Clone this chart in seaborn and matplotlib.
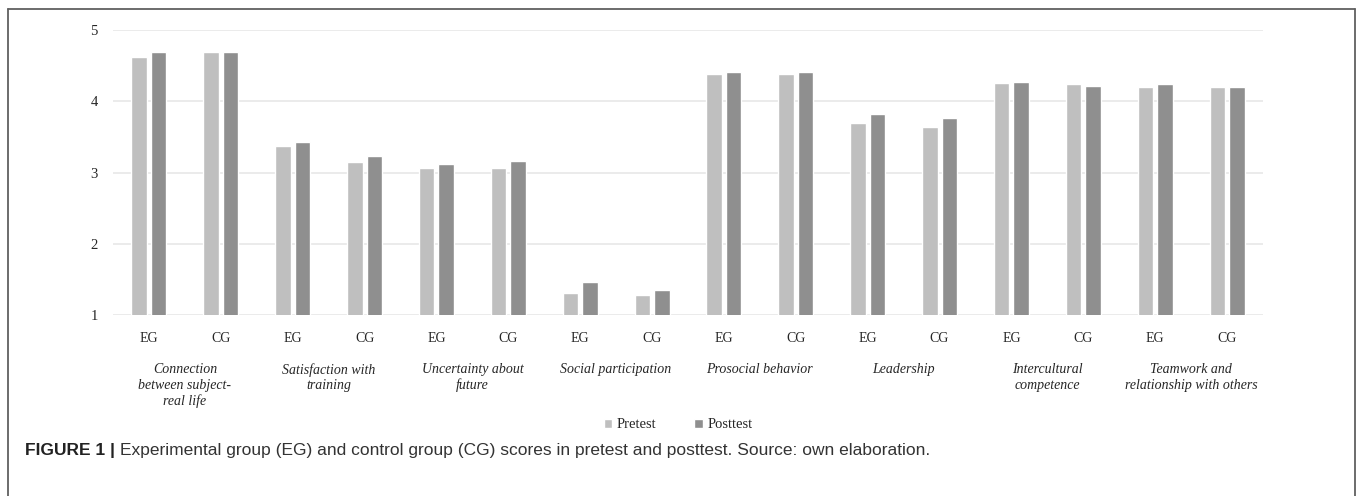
import pandas as pd
import matplotlib
matplotlib.use("Agg")
import matplotlib.pyplot as plt
import matplotlib.transforms as mtransforms
from matplotlib.lines import Line2D
import seaborn as sns

# datos
categories = [
    "Connection\nbetween subject-\nreal life",
    "Satisfaction with\ntraining",
    "Uncertainty about\nfuture",
    "Social participation",
    "Prosocial behavior",
    "Leadership",
    "Intercultural\ncompetence",
    "Teamwork and\nrelationship with others",
]
groups = ["EG", "CG"]
eg_pre = [4.62, 3.37, 3.06, 1.31, 4.39, 3.70, 4.26, 4.20]
eg_post = [4.69, 3.43, 3.12, 1.46, 4.42, 3.83, 4.27, 4.24]
cg_pre = [4.69, 3.15, 3.06, 1.28, 4.39, 3.64, 4.25, 4.21]
cg_post = [4.69, 3.23, 3.16, 1.34, 4.41, 3.77, 4.22, 4.20]

rows = []
for i in range(len(categories)):
    for g, pre, post in [("EG", eg_pre, eg_post), ("CG", cg_pre, cg_post)]:
        key = f"{g}{i}"
        rows.append({"slot": key, "group": g, "test": "Pretest", "score": pre[i]})
        rows.append({"slot": key, "group": g, "test": "Posttest", "score": post[i]})
df = pd.DataFrame(rows)
slot_order = list(dict.fromkeys(df["slot"]))

sns.set_style("white")
plt.rcParams["font.family"] = ["Liberation Serif", "DejaVu Serif"]

fig = plt.figure(figsize=(13.57, 4.96), dpi=100)
ax = fig.add_axes([113 / 1357, 1 - 315 / 496, 1150 / 1357, 285 / 496])

sns.barplot(data=df, x="slot", y="score", hue="test", order=slot_order,
            hue_order=["Pretest", "Posttest"],
            palette={"Pretest": "#bfbfbf", "Posttest": "#8f8f8f"},
            width=0.54, gap=0.2, ax=ax, zorder=3)

ax.set_ylim(0.995, 5.005)
ax.set_yticks([1, 2, 3, 4, 5])
ax.set_xlim(-0.5, len(slot_order) - 0.5)
ax.yaxis.grid(True, color="#e6e6e6", linewidth=1.1, zorder=0)
ax.set_axisbelow(True)
for s in ax.spines.values():
    s.set_visible(False)
ax.set_xlabel("")
ax.set_ylabel("")
ax.set_xticks(range(len(slot_order)))
ax.set_xticklabels([s[:2] for s in slot_order], fontsize=10)
ax.tick_params(axis="x", length=0, pad=12)
ax.tick_params(axis="y", length=0, pad=11, labelsize=10.5)

# etiquetas de categoría
trans = mtransforms.blended_transform_factory(ax.transData, fig.transFigure)
for i, cat in enumerate(categories):
    ax.text(2 * i + 0.5, 1 - 363 / 496, cat, transform=trans, ha="center", va="top",
            fontsize=10, style="italic", linespacing=1.25)

# leyenda
handles, labels = ax.get_legend_handles_labels()
ax.get_legend().remove()
fig.legend(handles, labels, loc="center", bbox_to_anchor=(678 / 1357, 1 - 425 / 496),
           ncol=2, frameon=False, fontsize=10.5, handlelength=0.6, handleheight=0.6,
           handletextpad=0.3, columnspacing=2.6)

# marco y pie de figura
border = dict(color="#606060", linewidth=1.3, transform=fig.transFigure)
fig.add_artist(Line2D([8 / 1357, 8 / 1357], [0, 1 - 9 / 496], **border))
fig.add_artist(Line2D([8 / 1357, 1355 / 1357], [1 - 9 / 496, 1 - 9 / 496], **border))
fig.add_artist(Line2D([1355 / 1357, 1355 / 1357], [0, 1 - 9 / 496], **border))

cap_y = 1 - 451 / 496
t1 = fig.text(25 / 1357, cap_y, "FIGURE 1 | ", fontsize=12.5, fontweight="bold",
              family="Liberation Sans", va="center", color="#222222")
fig.canvas.draw()
bb = t1.get_window_extent()
fig.text(bb.x1 / fig.bbox.width, cap_y,
         "Experimental group (EG) and control group (CG) scores in pretest and posttest. Source: own elaboration.",
         fontsize=12.5, family="Liberation Sans", va="center", color="#333333")

fig.savefig("out.png", dpi=100)
